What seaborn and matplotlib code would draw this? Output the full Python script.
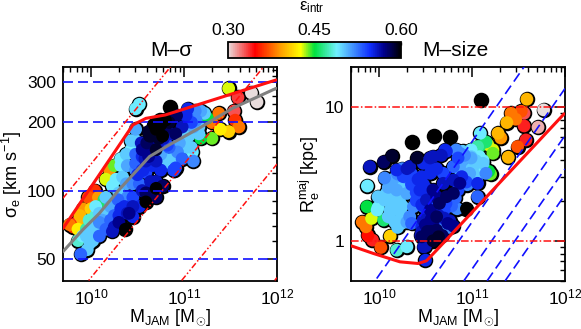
import numpy as np
import pandas as pd
import matplotlib
matplotlib.use("Agg")
import matplotlib.pyplot as plt
from matplotlib.colors import LinearSegmentedColormap, Normalize
from matplotlib.cm import ScalarMappable
from matplotlib.ticker import LogLocator, FixedLocator, FixedFormatter, NullFormatter
import seaborn as sns

# M-sigma panel: log mass, log sigma, ellipticity
sig_logm = [9.89, 9.99, 9.86, 9.95, 9.81, 9.86, 9.77, 9.85, 9.91, 9.95, 10.02, 10.09, 10.23, 10.29, 10.37,
            9.91, 10.00, 9.97, 10.04, 10.08, 10.09, 10.14, 10.05, 10.16, 10.25, 10.32, 10.41, 10.59, 10.55, 10.77,
            10.70, 10.89, 10.16, 10.20, 10.25, 10.32, 10.43, 10.48, 10.48, 10.23, 10.30, 10.39, 10.45, 10.34, 10.39,
            10.48, 10.59, 10.66, 10.55, 10.75, 10.80, 10.85, 10.90, 10.95, 11.00, 11.05, 11.10, 11.03, 11.12, 11.18,
            11.22, 11.08, 11.16, 10.93, 10.98, 11.08, 10.85, 10.92, 11.04, 11.375, 11.30, 11.25, 11.18, 11.30, 11.39,
            11.48, 11.59, 11.55, 11.54, 11.48, 11.58, 11.725, 11.785, 10.52, 10.48, 10.89, 11.10, 11.09,
            10.55, 10.60, 10.65, 10.70, 10.75, 10.80, 10.62, 10.68, 10.74, 10.80, 10.86, 10.68, 10.73, 10.78, 10.63, 10.58,
            10.50, 10.56, 10.62, 10.68, 10.72, 10.78, 10.82]
sig_logs = [1.72, 1.77, 1.78, 1.80, 1.84, 1.83, 1.85, 1.86, 1.87, 1.83, 1.80, 1.86, 1.82, 1.85, 1.83,
            1.92, 1.92, 1.97, 2.00, 1.97, 1.93, 1.96, 1.89, 1.90, 1.89, 1.92, 1.90, 1.95, 2.00, 2.02,
            2.04, 2.09, 2.05, 2.09, 2.11, 2.14, 2.18, 2.22, 2.27, 2.02, 1.99, 1.97, 2.03, 2.06, 2.11,
            2.12, 2.08, 2.11, 2.15, 2.16, 2.14, 2.12, 2.15, 2.19, 2.22, 2.25, 2.28, 2.33, 2.35, 2.35,
            2.34, 2.30, 2.25, 2.17, 2.14, 2.19, 2.37, 2.33, 2.36, 2.34, 2.30, 2.32, 2.23, 2.23, 2.27,
            2.26, 2.28, 2.31, 2.35, 2.45, 2.41, 2.43, 2.39, 2.38, 2.36, 2.09, 2.13, 2.17,
            2.18, 2.21, 2.24, 2.27, 2.29, 2.31, 2.26, 2.29, 2.31, 2.28, 2.25, 2.20, 2.23, 2.26, 2.12, 2.14,
            2.07, 2.09, 2.15, 2.18, 2.21, 2.23, 2.20]
sig_eps = [0.53, 0.50, 0.48, 0.50, 0.36, 0.42, 0.38, 0.34, 0.40, 0.47, 0.50, 0.52, 0.56, 0.55, 0.60,
           0.39, 0.41, 0.37, 0.36, 0.39, 0.46, 0.46, 0.48, 0.50, 0.53, 0.55, 0.57, 0.60, 0.56, 0.58,
           0.56, 0.54, 0.43, 0.39, 0.44, 0.49, 0.49, 0.50, 0.51, 0.49, 0.50, 0.52, 0.52, 0.50, 0.51,
           0.53, 0.54, 0.55, 0.55, 0.51, 0.50, 0.50, 0.50, 0.50, 0.50, 0.50, 0.51, 0.53, 0.52, 0.51,
           0.50, 0.54, 0.50, 0.52, 0.53, 0.50, 0.60, 0.58, 0.55, 0.38, 0.38, 0.45, 0.45, 0.44, 0.42,
           0.41, 0.38, 0.36, 0.33, 0.43, 0.335, 0.30, 0.30, 0.49, 0.49, 0.54, 0.52, 0.49,
           0.57, 0.58, 0.59, 0.60, 0.60, 0.60, 0.59, 0.60, 0.60, 0.58, 0.56, 0.57, 0.59, 0.58, 0.55, 0.56,
           0.55, 0.55, 0.57, 0.57, 0.56, 0.56, 0.54]

# dense part of the M-sigma band
sig_dense_logm = [9.91, 9.98, 10.05, 10.12, 9.98, 10.05, 10.16, 10.21, 10.29, 10.21, 10.30, 10.16, 10.25, 10.39,
                  10.45, 10.52, 10.55, 10.48, 10.38, 10.27, 10.32, 10.38, 10.43, 10.54, 10.48, 10.59, 10.70, 10.70,
                  10.77, 10.63, 10.73, 10.84, 10.91, 10.98, 10.91, 11.02, 11.13, 10.84, 10.95, 11.05, 11.16, 10.75,
                  10.64, 10.70, 10.45, 10.59, 10.36, 10.09, 9.88,
                  10.70, 10.52, 10.45, 10.30, 10.91, 11.02, 10.09, 10.02, 9.96, 10.16]
sig_dense_logs = [1.80, 1.82, 1.84, 1.87, 1.87, 1.93, 1.97, 1.93, 1.96, 1.87, 1.89, 1.83, 1.84, 1.90,
                  1.97, 2.03, 2.09, 2.09, 2.03, 2.05, 2.11, 2.16, 2.22, 2.21, 2.16, 2.13, 2.13, 2.18,
                  2.24, 2.24, 2.29, 2.30, 2.25, 2.28, 2.33, 2.33, 2.31, 2.19, 2.21, 2.24, 2.28, 2.09,
                  2.04, 2.01, 1.93, 1.99, 1.93, 1.90, 1.89,
                  1.97, 1.93, 1.885, 1.86, 2.10, 2.19, 1.80, 1.78, 1.74, 1.84]
sig_dense_eps = [0.49, 0.50, 0.50, 0.51, 0.48, 0.49, 0.50, 0.51, 0.53, 0.53, 0.55, 0.53, 0.56, 0.56,
                 0.54, 0.53, 0.55, 0.52, 0.51, 0.49, 0.49, 0.50, 0.50, 0.56, 0.53, 0.56, 0.56, 0.59,
                 0.60, 0.59, 0.60, 0.59, 0.58, 0.56, 0.57, 0.55, 0.52, 0.53, 0.51, 0.50, 0.50, 0.55,
                 0.56, 0.60, 0.56, 0.58, 0.55, 0.50, 0.40,
                 0.58, 0.55, 0.55, 0.57, 0.54, 0.50, 0.53, 0.50, 0.50, 0.52]

# M-size panel: log mass, log Re, ellipticity
size_logm = [11.59, 11.10, 11.77, 11.71, 11.53, 11.42, 11.56, 11.375, 11.47, 11.56, 11.58, 11.49, 11.39, 11.31, 11.28,
             11.09, 11.225, 11.17, 11.08, 10.99, 10.90, 10.87, 10.76, 10.59, 10.36, 10.14, 10.05, 9.90, 9.875, 10.06,
             9.99, 9.98, 9.87, 9.99, 9.92, 10.05, 9.82, 9.86, 9.88, 9.93, 10.12, 10.02, 10.19, 10.30, 10.48, 10.50,
             10.94, 10.41, 10.10, 10.15, 10.20, 10.25, 10.12, 10.18, 10.24, 10.30, 10.15, 10.22, 10.28, 10.10, 10.17, 10.24,
             10.20, 10.25, 10.30, 10.35, 10.40, 10.46, 10.52, 10.58, 10.64, 10.70, 10.76, 10.35, 10.42, 10.48, 10.54, 10.60,
             10.66, 10.72, 10.78, 10.84, 10.40, 10.46, 10.52, 10.58, 10.64, 10.70, 10.76, 10.82, 10.50, 10.56, 10.62, 10.68,
             10.74, 10.80, 10.46, 10.52, 10.58, 10.64, 10.70, 10.50, 10.56, 10.62, 10.45, 10.52, 10.85, 10.92, 10.99, 11.04,
             10.90, 10.96, 11.02, 11.08, 11.12, 11.05, 10.95, 10.85, 11.06, 11.18, 11.20]
size_logr = [1.06, 1.055, 0.98, 0.85, 0.97, 0.955, 0.955, 0.885, 0.91, 0.86, 0.755, 0.705, 0.625, 0.77, 0.805,
             0.805, 0.655, 0.72, 0.705, 0.68, 0.67, 0.57, 0.775, 0.785, 0.74, 0.635, 0.59, 0.555, 0.41, 0.47,
             0.33, 0.23, 0.255, 0.25, 0.1675, 0.155, 0.14, 0.105, 0.04, 0.005, 0.035, -0.05, -0.07, -0.045, -0.045, -0.145,
             0.24, 0.62, 0.40, 0.46, 0.50, 0.54, 0.33, 0.38, 0.42, 0.47, 0.25, 0.30, 0.36, 0.18, 0.14, 0.20,
             0.10, 0.26, 0.14, 0.42, 0.36, 0.31, 0.26, 0.20, 0.17, 0.13, 0.10, 0.50, 0.46, 0.42, 0.38, 0.34,
             0.31, 0.28, 0.26, 0.24, 0.30, 0.27, 0.23, 0.21, 0.19, 0.17, 0.15, 0.32, 0.12, 0.16, 0.08, 0.04,
             0.13, 0.11, 0.03, 0.07, 0.00, 0.03, 0.23, -0.04, 0.51, 0.54, 0.04, 0.58, 0.62, 0.64, 0.62, 0.60,
             0.54, 0.52, 0.50, 0.56, 0.60, 0.45, 0.42, 0.38, 0.33, 0.52, 0.50]
size_eps = [0.40, 0.60, 0.30, 0.31, 0.37, 0.38, 0.33, 0.40, 0.38, 0.34, 0.34, 0.37, 0.40, 0.39, 0.40,
            0.49, 0.44, 0.43, 0.46, 0.48, 0.50, 0.51, 0.60, 0.60, 0.60, 0.59, 0.58, 0.56, 0.49, 0.52,
            0.50, 0.49, 0.45, 0.49, 0.43, 0.46, 0.38, 0.38, 0.35, 0.34, 0.41, 0.37, 0.48, 0.49, 0.56, 0.55,
            0.60, 0.59, 0.51, 0.51, 0.52, 0.52, 0.50, 0.50, 0.50, 0.51, 0.50, 0.50, 0.50, 0.50, 0.50, 0.50,
            0.50, 0.50, 0.51, 0.54, 0.54, 0.54, 0.54, 0.55, 0.53, 0.52, 0.52, 0.54, 0.55, 0.55, 0.55, 0.54,
            0.54, 0.54, 0.53, 0.52, 0.54, 0.55, 0.55, 0.56, 0.56, 0.56, 0.56, 0.53, 0.57, 0.57, 0.58, 0.58,
            0.57, 0.57, 0.58, 0.58, 0.59, 0.59, 0.54, 0.56, 0.55, 0.55, 0.56, 0.55, 0.54, 0.52, 0.51, 0.50,
            0.50, 0.50, 0.50, 0.49, 0.49, 0.50, 0.52, 0.54, 0.53, 0.45, 0.44]

# dense part of the M-size cloud
size_dense_logm = [10.12, 10.08, 10.15, 10.225, 10.26, 10.15, 10.19, 10.30, 10.37, 10.33, 10.26, 10.35, 10.30, 10.19,
                   10.46, 10.55, 10.44, 10.475, 10.475, 10.55, 10.62, 10.65, 10.725, 10.80, 10.58, 10.69, 10.80, 10.89,
                   10.94, 10.69, 10.80, 10.58, 10.67, 10.725, 10.87, 10.90, 10.99, 11.08, 11.12, 11.01, 11.15, 11.06,
                   10.975, 10.87, 11.225, 11.15, 11.06,
                   10.06, 10.12, 10.24, 10.35, 10.46, 10.58, 10.46, 10.56, 10.51, 10.62, 10.87, 10.33, 10.475, 10.55,
                   10.71, 10.83, 10.99]
size_dense_logr = [0.43, 0.355, 0.305, 0.255, 0.18, 0.23, 0.38, 0.355, 0.255, 0.18, 0.48, 0.43, 0.54, 0.53,
                   0.48, 0.505, 0.38, 0.255, 0.155, 0.23, 0.18, 0.28, 0.33, 0.355, 0.38, 0.43, 0.455, 0.48,
                   0.44, 0.505, 0.555, 0.63, 0.64, 0.67, 0.655, 0.605, 0.63, 0.63, 0.58, 0.555, 0.505, 0.43,
                   0.505, 0.53, 0.68, 0.74, 0.705,
                   0.305, 0.23, 0.13, 0.13, 0.105, 0.13, 0.07, 0.07, 0.305, 0.33, 0.43, 0.555, 0.58, 0.62,
                   0.68, 0.68, 0.68]
size_dense_eps = [0.51, 0.50, 0.50, 0.50, 0.50, 0.50, 0.51, 0.51, 0.52, 0.52, 0.54, 0.53, 0.56, 0.55,
                  0.55, 0.55, 0.55, 0.54, 0.56, 0.57, 0.58, 0.58, 0.58, 0.58, 0.57, 0.56, 0.56, 0.55,
                  0.54, 0.54, 0.53, 0.56, 0.56, 0.55, 0.52, 0.51, 0.50, 0.49, 0.50, 0.50, 0.52, 0.55,
                  0.51, 0.51, 0.43, 0.46, 0.47,
                  0.50, 0.50, 0.50, 0.53, 0.55, 0.57, 0.56, 0.58, 0.56, 0.57, 0.57, 0.56, 0.55, 0.56,
                  0.55, 0.52, 0.49]

# limit curves and the mean relation
lim_sig_logm = [9.70, 10.45, 10.59, 10.80, 11.99]
lim_sig_logs = [1.834, 2.289, 2.318, 2.333, 2.487]
mean_logm = [9.70, 9.91, 10.09, 10.30, 10.63, 10.84, 11.16, 11.52, 11.99]
mean_logs = [1.732, 1.827, 1.900, 2.003, 2.150, 2.201, 2.274, 2.362, 2.450]
lim_size_logm = [9.70, 9.94, 10.225, 10.42, 10.51, 10.62, 11.99]
lim_size_logr = [-0.0375, -0.095, -0.1575, -0.17, -0.15, -0.07, 0.95]

sigma_levels = [50, 100, 200, 300]
sigma_diag_levels = [50, 100, 150, 200, 250]
size_levels = [0.1, 1, 10, 100]
eps_ticks = [0.30, 0.45, 0.60]

# colorbar stops
cmap_stops = [(0.0, "#e8dcdc"), (0.155, "#ff0000"), (0.30, "#ff9a00"), (0.42, "#ffff00"), (0.50, "#00e040"),
              (0.63, "#70f0ff"), (0.82, "#1030ff"), (0.90, "#000090"), (1.0, "#000000")]
eps_cmap = LinearSegmentedColormap.from_list("eps", cmap_stops)
eps_norm = Normalize(0.30, 0.60)

G_TERM = 6.766  # log10(5/G) with kpc, km/s and Msun
G_TERM_SIZE = 6.86  # diagonals in the size panel sit a bit further left
W, H = 581, 329


def draw_points(ax, logm, logy, eps):
    df = pd.DataFrame({"m": 10 ** np.array(logm), "y": 10 ** np.array(logy), "eps": eps})
    df = df.sort_values("eps")
    sns.scatterplot(data=df, x="m", y="y", color="black", s=125, linewidth=0, ax=ax, zorder=2)
    sns.scatterplot(data=df, x="m", y="y", hue="eps", palette=eps_cmap, hue_norm=eps_norm,
                    s=85, linewidth=0, legend=False, ax=ax, zorder=3)


def style_axes(ax, ylim):
    ax.set_xscale("log")
    ax.set_yscale("log")
    ax.set_xlim(5e9, 1e12)
    ax.set_ylim(*ylim)
    ax.tick_params(which="major", direction="in", top=True, right=True, length=7, width=1.1, labelsize=12.5, pad=5)
    ax.tick_params(which="minor", direction="in", top=True, right=True, length=3.5, width=1.0)
    ax.xaxis.set_major_locator(LogLocator(base=10, numticks=5))
    ax.xaxis.set_minor_locator(LogLocator(base=10, subs=np.arange(2, 10), numticks=5))
    ax.xaxis.set_minor_formatter(NullFormatter())
    ax.yaxis.set_minor_formatter(NullFormatter())
    ax.set_xlabel(r"M$_{\rm JAM}$ [M$_{\odot}$]", fontsize=13, labelpad=0)
    for s in ax.spines.values():
        s.set_linewidth(1.3)


def panel_rect(x0, x1, y0, y1):
    return [x0 / W, 1 - y1 / H, (x1 - x0) / W, (y1 - y0) / H]


def main():
    sns.set_theme(style="white")
    plt.rcParams["font.family"] = ["Liberation Sans", "DejaVu Sans"]
    plt.rcParams["mathtext.fontset"] = "custom"
    plt.rcParams["mathtext.rm"] = "Liberation Sans"
    plt.rcParams["mathtext.it"] = "Liberation Sans"
    plt.rcParams["mathtext.bf"] = "Liberation Sans"
    plt.rcParams["text.color"] = "black"
    plt.rcParams["axes.labelcolor"] = "black"
    plt.rcParams["xtick.color"] = "black"
    plt.rcParams["ytick.color"] = "black"
    plt.rcParams["axes.edgecolor"] = "black"

    fig = plt.figure(figsize=(W / 100, H / 100), dpi=100)
    ax1 = fig.add_axes(panel_rect(63, 277, 67, 281))
    ax2 = fig.add_axes(panel_rect(351, 565, 67, 281))
    xs = np.array([5e9, 1e12])

    # left panel
    style_axes(ax1, (40, 350))
    draw_points(ax1, sig_logm + sig_dense_logm, sig_logs + sig_dense_logs, sig_eps + sig_dense_eps)
    for s in sigma_levels:
        ax1.plot(xs, [s, s], color="#1010ff", ls=(0, (6, 3)), lw=1.2, zorder=4)
    for r in size_levels:
        ax1.plot(xs, 10 ** (0.5 * (np.log10(xs) - G_TERM - np.log10(r))), color="#ff1010",
                 ls=(0, (4, 1.5, 1, 1.5, 1, 1.5)), lw=1.1, zorder=4)
    ax1.plot(10 ** np.array(mean_logm), 10 ** np.array(mean_logs), color="#808080", lw=2.2, zorder=5)
    ax1.plot(10 ** np.array(lim_sig_logm), 10 ** np.array(lim_sig_logs), color="#ff1010", lw=2.2, zorder=6)
    ax1.yaxis.set_major_locator(FixedLocator([50, 100, 200, 300]))
    ax1.yaxis.set_major_formatter(FixedFormatter(["50", "100", "200", "300"]))
    ax1.yaxis.set_minor_locator(FixedLocator([60, 70, 80, 90, 120, 140, 160, 180, 220, 240, 260, 280, 320, 340]))
    ax1.set_ylabel(r"σ$_{\rm e}$ [km s$^{-1}$]", fontsize=13, labelpad=2)

    # right panel
    style_axes(ax2, (0.5, 20))
    draw_points(ax2, size_logm + size_dense_logm, size_logr + size_dense_logr, size_eps + size_dense_eps)
    for s in sigma_diag_levels:
        ax2.plot(xs, 10 ** (np.log10(xs) - G_TERM_SIZE - 2 * np.log10(s)), color="#1010ff",
                 ls=(0, (6, 3)), lw=1.2, zorder=4)
    for r in [1, 10]:
        ax2.plot(xs, [r, r], color="#ff1010", ls=(0, (5, 1.5, 1, 1.5)), lw=1.1, zorder=4)
    ax2.plot(10 ** np.array(lim_size_logm), 10 ** np.array(lim_size_logr), color="#ff1010", lw=2.2, zorder=6)
    ax2.yaxis.set_major_locator(FixedLocator([1, 10]))
    ax2.yaxis.set_major_formatter(FixedFormatter(["1", "10"]))
    ax2.yaxis.set_minor_locator(LogLocator(base=10, subs=np.arange(2, 10), numticks=5))
    ax2.set_ylabel(r"R$_{\rm e}^{\rm maj}$ [kpc]", fontsize=13, labelpad=2)

    # colorbar on top
    cax = fig.add_axes(panel_rect(228, 401, 42, 58))
    cb = fig.colorbar(ScalarMappable(norm=eps_norm, cmap=eps_cmap), cax=cax, orientation="horizontal")
    cax.xaxis.set_ticks_position("top")
    cb.set_ticks(eps_ticks)
    cb.set_ticklabels(["0.30", "0.45", "0.60"])
    cax.xaxis.set_minor_locator(FixedLocator([0.375, 0.525]))
    cax.tick_params(which="major", direction="in", length=2, width=1, labelsize=12.5, pad=3, top=True)
    cax.tick_params(which="minor", direction="in", length=2, width=1, top=True)
    cb.outline.set_linewidth(1.3)
    fig.text(312 / W, 1 - 7 / H, r"ε$_{\rm intr}$", ha="center", va="center", fontsize=12)
    fig.text(171 / W, 1 - 51 / H, "M\u2013σ", ha="center", va="center", fontsize=15)
    fig.text(455 / W, 1 - 51 / H, "M\u2013size", ha="center", va="center", fontsize=15)

    fig.savefig("out.png", dpi=100)


if __name__ == "__main__":
    main()
